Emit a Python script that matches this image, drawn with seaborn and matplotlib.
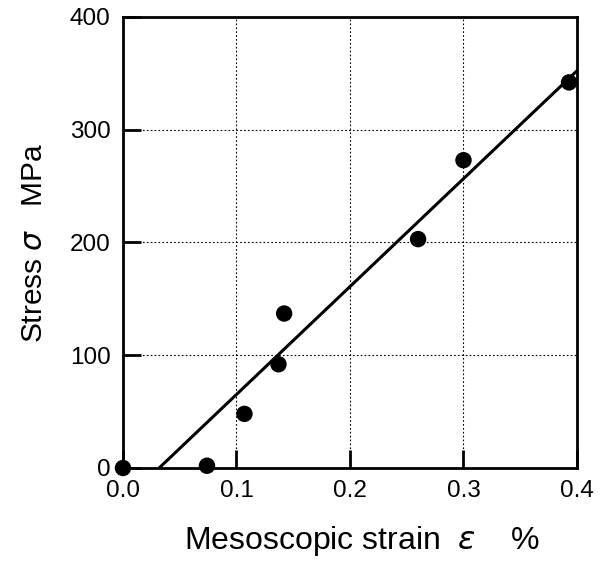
import numpy as np
import pandas as pd
import matplotlib
matplotlib.use("Agg")
import matplotlib.pyplot as plt
import seaborn as sns

# data
strain = [0.0, 0.074, 0.107, 0.137, 0.142, 0.260, 0.300, 0.393]
stress = [0, 2, 48, 92, 137, 203, 273, 342]
fit_slope = 957.0       # MPa per %
fit_intercept = -30.5   # MPa
fit_range = [0.032, 0.40]

xticks = [0.0, 0.1, 0.2, 0.3, 0.4]
yticks = [0, 100, 200, 300, 400]

sns.set_style("white")
plt.rcParams['font.family'] = ['Liberation Sans', 'DejaVu Sans']
plt.rcParams['mathtext.fontset'] = 'dejavusans'
plt.rcParams['text.color'] = 'black'
plt.rcParams['axes.labelcolor'] = 'black'
plt.rcParams['xtick.color'] = 'black'
plt.rcParams['ytick.color'] = 'black'

df = pd.DataFrame({"strain": strain, "stress": stress})
fit_x = np.array(fit_range)
fit = pd.DataFrame({"strain": fit_x, "stress": fit_slope * fit_x + fit_intercept})

fig = plt.figure(figsize=(6.1, 5.61), dpi=100)
ax = fig.add_axes([0.2016, 0.1658, 0.7443, 0.8039])

ax.grid(True, color='black', linestyle=(0, (1.5, 2)), linewidth=0.8)
sns.lineplot(data=fit, x="strain", y="stress", ax=ax, color='black', linewidth=2.2)
sns.scatterplot(data=df, x="strain", y="stress", ax=ax, color='black', s=140,
                edgecolor='none', clip_on=False, zorder=5)

ax.set_xlim(0, 0.4)
ax.set_ylim(0, 400)
ax.set_xticks(xticks)
ax.set_yticks(yticks)
ax.set_xticklabels([f"{t:.1f}" for t in xticks])
ax.set_yticklabels([str(t) for t in yticks])
ax.tick_params(direction='in', length=13, width=2, labelsize=17.5, color='black',
               bottom=True, left=True)
ax.tick_params(axis='y', pad=9)
ax.tick_params(axis='x', pad=9)
for s in ax.spines.values():
    s.set_linewidth(2)
    s.set_color('black')

ax.set_xlabel(r"Mesoscopic strain  $\varepsilon$    %", fontsize=23)
ax.xaxis.set_label_coords(0.527, -0.125)
ax.set_ylabel(r"Stress $\sigma$   MPa", fontsize=21.5, labelpad=16)

fig.savefig("out.png", dpi=100)
